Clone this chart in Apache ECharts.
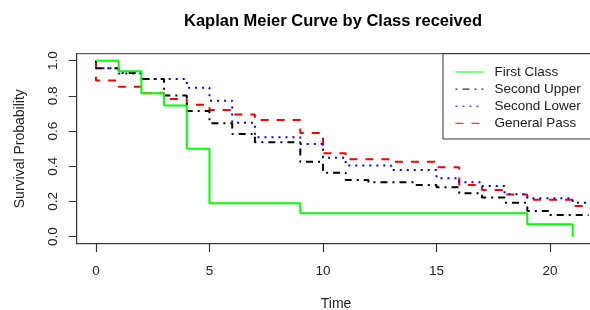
<!DOCTYPE html>
<html>
<head>
<meta charset="utf-8">
<script src="https://cdn.jsdelivr.net/npm/echarts@6/dist/echarts.min.js"></script>
<style>html,body{margin:0;padding:0;background:#fff}#c{width:590px;height:310px}</style>
</head>
<body>
<div id="c"></div>
<script>
const seriesNames = ['First Class', 'Second Upper', 'Second Lower', 'General Pass'];
const firstTimes = [0, 1, 2, 3, 4, 5, 9, 19, 21];
const firstSurv  = [1.0, 0.94, 0.815, 0.745, 0.5, 0.19, 0.133, 0.07, 0.0];
const upperTimes = [0, 0, 1, 2, 3, 4, 5, 6, 7, 9, 10, 11, 12, 14, 15, 16, 17, 18, 19, 20, 21.7];
const upperSurv  = [1.0, 0.957, 0.93, 0.896, 0.803, 0.714, 0.644, 0.583, 0.536, 0.426, 0.364, 0.322, 0.309, 0.294, 0.281, 0.247, 0.222, 0.193, 0.146, 0.123, 0.123];
const lowerTimes = [0, 0, 1, 2, 4, 5, 6, 7, 9, 10, 11, 13, 15, 16, 17, 18, 19, 21, 21.7];
const lowerSurv  = [1.0, 0.957, 0.928, 0.896, 0.847, 0.773, 0.648, 0.565, 0.527, 0.449, 0.405, 0.379, 0.332, 0.309, 0.288, 0.241, 0.218, 0.193, 0.193];
const passTimes  = [0, 0, 1, 2, 3, 4, 5, 6, 7, 9, 10, 11, 13, 15, 16, 17, 18, 19, 21, 21.7];
const passSurv   = [1.0, 0.887, 0.852, 0.815, 0.783, 0.75, 0.72, 0.695, 0.663, 0.589, 0.474, 0.44, 0.426, 0.395, 0.294, 0.265, 0.24, 0.21, 0.174, 0.174];
const xTicks = [0, 5, 10, 15, 20];
const yTicks = [0, 0.2, 0.4, 0.6, 0.8, 1.0];

function pairs(t, s) { return t.map((v, i) => [v, s[i]]); }
function isTick(arr, v) { return arr.some(t => Math.abs(t - v) < 1e-6); }
const FONT = 'Liberation Sans, Arial, sans-serif';
const styles = [
  { color: '#00ff00', type: 'solid' },
  { color: '#000000', type: [2, 5, 7, 5] },
  { color: '#0000ff', type: [2, 5] },
  { color: '#ff0000', type: [8, 8] }
];
const datas = [pairs(firstTimes, firstSurv), pairs(upperTimes, upperSurv), pairs(lowerTimes, lowerSurv), pairs(passTimes, passSurv)];
const X_MIN = -0.85, X_MAX = 22, Y_MIN = -0.04, Y_MAX = 1.04;

const chart = echarts.init(document.getElementById('c'), null, { renderer: 'canvas' });
chart.setOption({
  animation: false,
  backgroundColor: '#ffffff',
  title: {
    text: 'Kaplan Meier Curve by Class received',
    left: 328, textAlign: 'center', top: 8,
    textStyle: { fontFamily: FONT, fontSize: 16.5, fontWeight: 'bold', color: '#000' }
  },
  grid: { show: true, outerBoundsMode: 'none', containLabel: false, left: 76.7, top: 53.7, width: 518.7, height: 190, borderColor: '#333', borderWidth: 1, backgroundColor: 'transparent' },
  xAxis: {
    type: 'value', min: X_MIN, max: X_MAX,
    axisLine: { show: true, onZero: false, lineStyle: { color: '#333', width: 1 } }, splitLine: { show: false },
    axisTick: { show: true, customValues: xTicks, length: 8, inside: false, lineStyle: { color: '#333', width: 1 } },
    axisLabel: { customValues: xTicks, margin: 21, fontSize: 13.5, color: '#222', fontFamily: FONT,
      formatter: v => isTick(xTicks, v) ? String(v) : '' },
    name: 'Time', nameLocation: 'middle', nameGap: 53,
    nameTextStyle: { fontSize: 14, color: '#222', fontFamily: FONT }
  },
  yAxis: {
    type: 'value', min: Y_MIN, max: Y_MAX,
    axisLine: { show: true, onZero: false, lineStyle: { color: '#333', width: 1 } }, splitLine: { show: false },
    axisTick: { show: true, customValues: yTicks, length: 8, inside: false, lineStyle: { color: '#333', width: 1 } },
    axisLabel: { customValues: yTicks, rotate: 90, margin: 16, fontSize: 13.5, color: '#222', fontFamily: FONT,
      formatter: v => isTick(yTicks, v) ? v.toFixed(1) : '' },
    name: 'Survival Probability', nameLocation: 'middle', nameGap: 50,
    nameTextStyle: { fontSize: 14, color: '#222', fontFamily: FONT }
  },
  legend: {
    orient: 'vertical', left: 455, top: 65, padding: 0, z: 20,
    itemWidth: 28, itemHeight: 14, itemGap: 3.1,
    textStyle: { fontSize: 13.5, color: '#222', fontFamily: FONT, padding: [0, 0, 0, 6] },
    data: seriesNames.map((n, i) => ({ name: n, itemStyle: { opacity: 0 }, lineStyle: { color: styles[i].color, type: styles[i].type, width: 1 } }))
  },
  graphic: [{
    id: 'legendBox', type: 'rect', shape: { x: 443, y: 53.5, width: 160, height: 85.5 },
    style: { fill: 'none', stroke: '#333', lineWidth: 1 }, z: 1
  }],
  series: seriesNames.map((n, i) => ({
    name: n, type: 'line', step: 'end', symbol: 'none', data: datas[i],
    lineStyle: { color: styles[i].color, type: styles[i].type, width: 2 },
    itemStyle: { color: styles[i].color },
    z: 2 + (3 - i)
  }))
});

// x-axis tick marks placed through the chart's own scale
const tickEls = xTicks.map((v, i) => {
  const p = chart.convertToPixel({ xAxisIndex: 0, yAxisIndex: 0 }, [v, Y_MIN]);
  const x = Math.round(p[0]) + 0.5;
  const y = Math.round(p[1]);
  return { id: 'xt' + i, type: 'line', silent: true,
    shape: { x1: x, y1: y, x2: x, y2: y + 8 },
    style: { stroke: '#333333', lineWidth: 1.2 }, z: 100 };
});
chart.setOption({ graphic: { elements: tickEls } });
</script>
</body>
</html>
